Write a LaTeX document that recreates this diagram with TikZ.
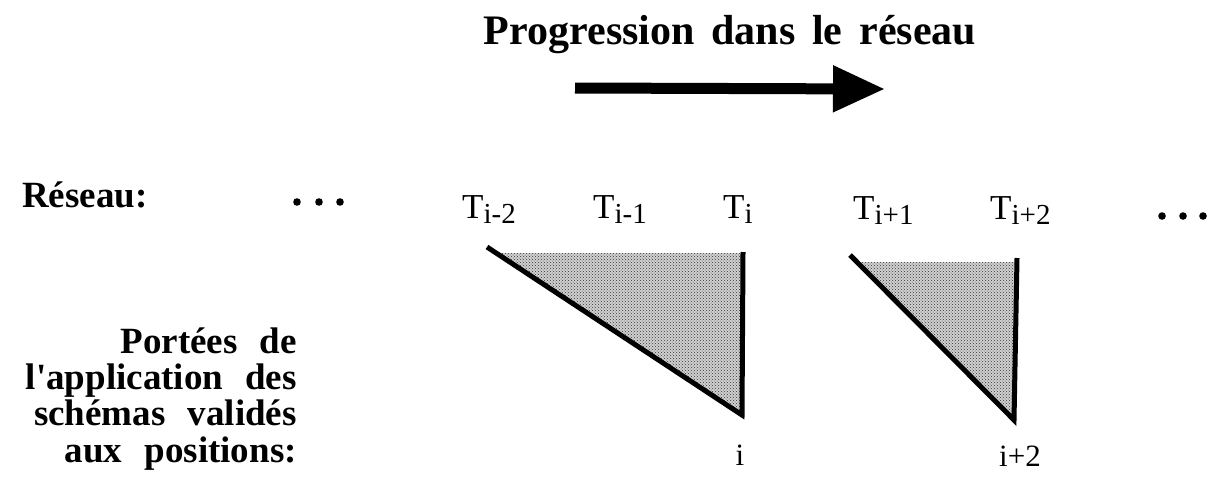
\documentclass[tikz,border=0pt]{standalone}
\usepackage{fontspec}
\setmainfont{Liberation Serif}
\usetikzlibrary{arrows.meta,patterns}
\newcommand{\Tsb}[1]{T\raisebox{-5pt}{\fontsize{29}{29}\selectfont #1}}
\begin{document}
\begin{tikzpicture}[x=1pt,y=-1pt,
  lbl/.style={inner sep=0pt, font=\bfseries\fontsize{37}{37}\selectfont},
  tlabel/.style={inner sep=0pt, font=\fontsize{35}{35}\selectfont, anchor=base west},
  poslbl/.style={inner sep=0pt, font=\fontsize{31}{31}\selectfont, anchor=base},
  edgeline/.style={line width=5pt},
  shadebase/.style={fill=black!18},
  shade/.style={pattern=crosshatch dots, pattern color=black!80},
  dotmark/.style={fill=black}]
\useasboundingbox (0,0) rectangle (1214,480);

% title and arrow
\node[inner sep=0pt, anchor=base, font=\bfseries\fontsize{42}{42}\selectfont] (title) at (730,44) {Progression\hspace{0.4em}dans\hspace{0.4em}le\hspace{0.4em}réseau};
\coordinate (as) at (575,88);
\coordinate (ae) at (885,89);
\draw[line width=11pt, -{Triangle[length=52pt,width=44pt]}] (as) -- (ae);

% network row
\node[lbl, anchor=base west] (reseau) at (22,207) {Réseau:};
\fill[dotmark] (297,202) circle (3.8pt) (319,202) circle (3.8pt) (340,202) circle (3.8pt);
\node[tlabel] (t1) at (462,218) {\Tsb{i-2}};
\node[tlabel] (t2) at (593,218) {\Tsb{i-1}};
\node[tlabel] (t3) at (723,218) {\Tsb{i}};
\node[tlabel] (t4) at (853,219) {\Tsb{i+1}};
\node[tlabel] (t5) at (990,219) {\Tsb{i+2}};
\fill[dotmark] (1162,216) circle (3.8pt) (1183,216) circle (3.8pt) (1203,216) circle (3.8pt);

% first scope triangle
\coordinate (a1) at (487,247);
\coordinate (b1) at (742,415);
\coordinate (c1) at (743,252);
\fill[shadebase] (496,253) -- (742,253) -- (b1) -- cycle;
\fill[shade] (496,253) -- (742,253) -- (b1) -- cycle;
\draw[edgeline] (a1) -- (b1) -- (c1);

% second scope triangle
\coordinate (a2) at (850,255);
\coordinate (b2) at (1014,420);
\coordinate (c2) at (1017,258);
\fill[shadebase] (857,262) -- (1016,262) -- (b2) -- cycle;
\fill[shade] (857,262) -- (1016,262) -- (b2) -- cycle;
\draw[edgeline] (a2) -- (b2) -- (c2);

\node[poslbl] (pi) at (740,465) {i};
\node[poslbl] (pi2) at (1020,466) {i+2};

% left description
\node[lbl, anchor=base east] (l1) at (297,353) {Portées\hspace{0.6em}de};
\node[lbl, anchor=base east] (l2) at (297,389) {l\textquotesingle application\hspace{0.6em}des};
\node[lbl, anchor=base east] (l3) at (297,425) {schémas\hspace{0.6em}validés};
\node[lbl, anchor=base east] (l4) at (297,462) {aux\hspace{0.6em}positions:};
\end{tikzpicture}
\end{document}
